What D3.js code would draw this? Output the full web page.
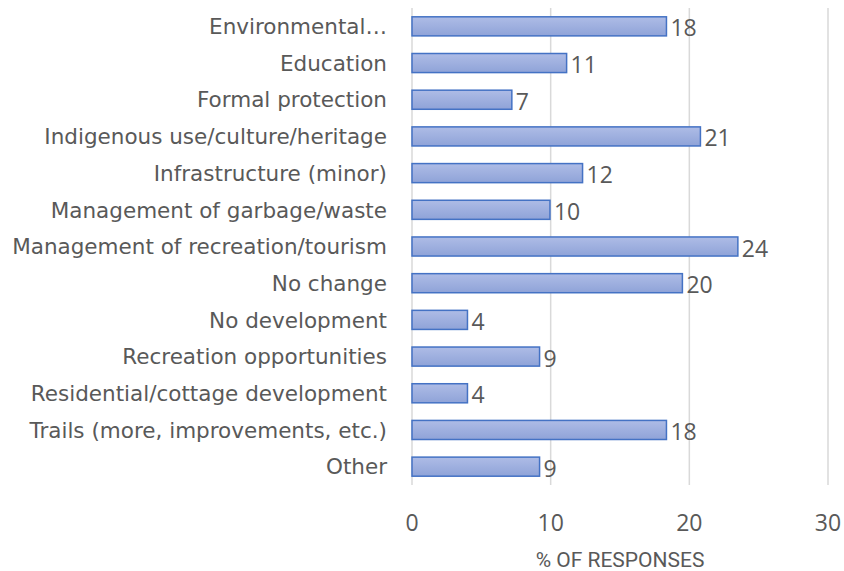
<!DOCTYPE html>
<html><head><meta charset="utf-8">
<script src="https://cdn.jsdelivr.net/npm/d3@7"></script>
<style>body{margin:0;background:#fff}svg{display:block}</style>
</head><body><svg id="c" width="844" height="571"></svg>
<script>
const categories = ["Environmental…","Education","Formal protection","Indigenous use/culture/heritage","Infrastructure (minor)","Management of garbage/waste","Management of recreation/tourism","No change","No development","Recreation opportunities","Residential/cottage development","Trails (more, improvements, etc.)","Other"];
const values = [18.35,11.15,7.2,20.8,12.3,9.95,23.5,19.5,4,9.2,4,18.35,9.2];
const labels = ["18","11","7","21","12","10","24","20","4","9","4","18","9"];
const ticks = [0,10,20,30];
const axisTitle = "% OF RESPONSES";

const svg = d3.select("#c");
const m = {l:412, r:828, t:8, b:485};
const x = d3.scaleLinear().domain([0,30]).range([m.l, m.r]);
const y = d3.scaleBand().domain(categories).range([m.t, m.b]).paddingInner(0.48).paddingOuter(0.24);

const defs = svg.append("defs");
const g = defs.append("linearGradient").attr("id","bg").attr("x1",0).attr("y1",0).attr("x2",0).attr("y2",1);
g.append("stop").attr("offset","0%").attr("stop-color","#aebce6");
g.append("stop").attr("offset","100%").attr("stop-color","#8fa3d8");

svg.append("g").selectAll("line").data(ticks).join("line")
  .attr("x1",d=>x(d)).attr("x2",d=>x(d)).attr("y1",m.t).attr("y2",m.b)
  .attr("stroke","#d9d9d9").attr("stroke-width",1.5);

svg.append("g").selectAll("rect").data(values).join("rect")
  .attr("x",x(0)).attr("y",(d,i)=>y(categories[i]))
  .attr("width",d=>x(d)-x(0)).attr("height",y.bandwidth())
  .attr("fill","url(#bg)").attr("stroke","#4472c4").attr("stroke-width",1.5);

svg.append("g").selectAll("text").data(values).join("text")
  .attr("x",d=>x(d)+4).attr("y",(d,i)=>y(categories[i])+y.bandwidth()/2+2)
  .attr("dy","0.35em").attr("font-family","'Open Sans',sans-serif").attr("font-size",23).attr("fill","#595959")
  .text((d,i)=>labels[i]);

svg.append("g").selectAll("text").data(categories).join("text")
  .attr("x",387).attr("y",d=>y(d)+y.bandwidth()/2).attr("dy","0.36em")
  .attr("text-anchor","end").attr("font-family","'DejaVu Sans',sans-serif").attr("font-size",21.5).attr("fill","#595959").text(d=>d);

svg.append("g").selectAll("text").data(ticks).join("text")
  .attr("x",d=>x(d)).attr("y",523).attr("dy","0.35em").attr("text-anchor","middle")
  .attr("font-family","'Open Sans',sans-serif").attr("font-size",23).attr("fill","#595959").text(d=>d);

svg.append("text").attr("x",(m.l+m.r)/2).attr("y",560).attr("dy","0.35em").attr("text-anchor","middle")
  .attr("font-family","Roboto,sans-serif").attr("font-size",21).attr("fill","#595959").text(axisTitle);
</script></body></html>
